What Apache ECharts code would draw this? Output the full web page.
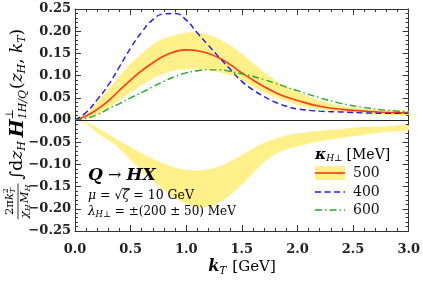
<!DOCTYPE html>
<html><head><meta charset="utf-8">
<script src="https://cdn.jsdelivr.net/npm/echarts@6/dist/echarts.min.js"></script>
<style>html,body{margin:0;padding:0;background:#fff}#c{width:423px;height:287px}</style>
</head><body><div id="c"></div>
<script>
// ---- data ----
const kT       = [0,0.1,0.2,0.3,0.4,0.5,0.6,0.7,0.8,0.9,1.0,1.1,1.2,1.3,1.4,1.5,1.6,1.7,1.8,1.9,2.0,2.2,2.4,2.6,2.8,3.0];
const red500   = [0,0.009,0.024,0.043,0.067,0.090,0.111,0.129,0.144,0.154,0.158,0.156,0.150,0.139,0.124,0.106,0.090,0.075,0.062,0.052,0.044,0.031,0.024,0.020,0.017,0.016];
const blue400  = [0,0.017,0.046,0.079,0.120,0.162,0.198,0.226,0.239,0.240,0.225,0.196,0.168,0.140,0.113,0.087,0.068,0.053,0.040,0.031,0.025,0.020,0.018,0.016,0.015,0.015];
const green600 = [0,0.004,0.012,0.025,0.037,0.050,0.062,0.075,0.087,0.098,0.106,0.111,0.113,0.113,0.109,0.104,0.098,0.091,0.083,0.074,0.066,0.050,0.037,0.028,0.022,0.018];
const bandHi   = [0,0.014,0.042,0.069,0.099,0.127,0.150,0.170,0.184,0.191,0.197,0.197,0.192,0.182,0.167,0.149,0.129,0.108,0.090,0.075,0.064,0.044,0.032,0.025,0.022,0.020];
const bandLo   = [0,0.004,0.012,0.027,0.045,0.062,0.079,0.093,0.104,0.112,0.115,0.115,0.112,0.107,0.100,0.089,0.076,0.062,0.051,0.043,0.034,0.024,0.018,0.014,0.012,0.011];
const negHi    = [0,-0.005,-0.017,-0.032,-0.047,-0.061,-0.075,-0.087,-0.098,-0.107,-0.112,-0.114,-0.111,-0.104,-0.093,-0.079,-0.064,-0.051,-0.042,-0.035,-0.030,-0.024,-0.020,-0.016,-0.014,-0.012];
const negLo    = [0,-0.008,-0.029,-0.045,-0.064,-0.090,-0.115,-0.138,-0.158,-0.176,-0.189,-0.196,-0.196,-0.186,-0.168,-0.146,-0.120,-0.095,-0.077,-0.066,-0.059,-0.048,-0.040,-0.033,-0.027,-0.023];
const legendNames = ['500','400','600'];

// ---- styles ----
const YEL = '#fff08a', RED = '#ff3a14', BLUE = '#1a1aff', GREEN = '#22aa22';
const SERIF = '"DejaVu Serif"';
const ctx = document.createElement('canvas').getContext('2d');
function tw(t, f){ ctx.font = f; return ctx.measureText(t).width; }
function txt(t, f, x, y, fill){
  return {type:'text', x:x, y:y, silent:true, z:100,
    style:{text:t, font:f, fill:fill||'#000', align:'left', verticalAlign:'middle', textAlign:'left', textVerticalAlign:'middle'}};
}
// lay out a row of pieces; piece: {t,f,dy} or {stack:[...]} or {gap:n}
function row(pieces, x0, y0, fill){
  let x = x0; const els = [], xs = [];
  pieces.forEach(p => {
    xs.push(x);
    if (p.gap !== undefined){ x += p.gap; return; }
    if (p.stack){
      let w = 0;
      p.stack.forEach(s => { els.push(txt(s.t, s.f, x, y0 + (s.dy||0), fill)); w = Math.max(w, tw(s.t, s.f)); });
      x += w; return;
    }
    els.push(txt(p.t, p.f, x, y0 + (p.dy||0), fill));
    x += tw(p.t, p.f);
  });
  xs.push(x);
  return {els:els, w:x - x0, xs:xs};
}
function rowWidth(pieces){ return row(pieces,0,0).w; }

const fN = s => s + 'px ' + SERIF;
const fI = s => 'italic ' + s + 'px ' + SERIF;
const fBI = s => 'italic bold ' + s + 'px ' + SERIF;

// ---- y title (rotated) ----
const numP = [{t:'2π', f:fN(11.5)}, {t:'k', f:fI(11.5)}, {stack:[{t:'2', f:fN(8), dy:-4}, {t:'T', f:fI(8), dy:2.5}]}];
const denP = [{t:'χ', f:fI(11.5)}, {t:'H', f:fI(8), dy:3}, {gap:1}, {t:'M', f:fI(11.5)}, {t:'H', f:fI(8), dy:3}];
const mainP = [{t:'∫', f:fN(17)}, {t:'d', f:fN(17)}, {t:'z', f:fI(17)}, {t:'H', f:fI(11), dy:4}, {gap:4},
  {t:'H', f:fBI(19)}, {stack:[{t:'⊥', f:fN(11), dy:-8}, {t:'1H/Q', f:fI(11), dy:5}]}, {gap:1},
  {t:'(', f:fN(17)}, {t:'z', f:fI(17)}, {t:'H', f:fI(11), dy:4}, {t:', ', f:fN(17)}, {t:'k', f:fI(17)}, {t:'T', f:fI(11), dy:4}, {t:')', f:fN(17)}];
const wn = rowWidth(numP), wd = rowWidth(denP), wf = Math.max(wn, wd) + 2;
const wm = rowWidth(mainP);
const totalY = wf + 4 + wm;
const yTitleEls = [].concat(
  row(numP, (wf - wn)/2, -8).els,
  [{type:'line', silent:true, z:100, shape:{x1:0, y1:0, x2:wf, y2:0}, style:{stroke:'#000', lineWidth:0.8}}],
  row(denP, (wf - wd)/2, 7).els,
  row(mainP, wf + 4, 0).els
);

// ---- x title ----
const xP = [{t:'k', f:fBI(16)}, {t:'T', f:fI(10.5), dy:4}, {gap:6}, {t:'[GeV]', f:fN(15)}];
const xw = rowWidth(xP);
const xTitle = row(xP, 242 - xw/2, 267).els;

// ---- annotations ----
const a1 = row([{t:'Q', f:fBI(17)}, {t:' → ', f:fN(16)}, {t:'HX', f:fBI(17)}], 88, 176).els;
const a2r = row([{t:'μ', f:fI(12.5)}, {t:' = √', f:fN(12.5)}, {t:'ζ', f:fI(12.5)}, {t:' = 10 GeV', f:fN(12.5)}], 88, 196);
const a2 = a2r.els.concat([{type:'line', silent:true, z:100,
  shape:{x1:a2r.xs[2] - 0.5, y1:188.5, x2:a2r.xs[3] + 0.5, y2:188.5}, style:{stroke:'#000', lineWidth:0.8}}]);
const a3 = row([{t:'λ', f:fI(12)}, {t:'H⊥', f:fI(8.5), dy:3}, {t:' = ±(200 ± 50) MeV', f:fN(12)}], 88, 212).els;

// ---- legend (drawn by hand) ----
const lg = row([{t:'κ', f:fBI(15)}, {t:'H⊥', f:fI(9), dy:4}, {gap:4}, {t:'[MeV]', f:fN(14)}], 315, 155).els;
const lx1 = 315, lx2 = 345, lyy = [173, 192, 210];
const legendEls = [].concat(lg, [
  {type:'rect', silent:true, z:100, shape:{x:lx1, y:166, width:lx2-lx1, height:14}, style:{fill:YEL}},
  {type:'line', silent:true, z:101, shape:{x1:lx1, y1:lyy[0], x2:lx2, y2:lyy[0]}, style:{stroke:RED, lineWidth:1.6}},
  {type:'line', silent:true, z:101, shape:{x1:lx1, y1:lyy[1], x2:lx2, y2:lyy[1]}, style:{stroke:BLUE, lineWidth:1.4, lineDash:[6,3.5]}},
  {type:'line', silent:true, z:101, shape:{x1:lx1, y1:lyy[2], x2:lx2, y2:lyy[2]}, style:{stroke:GREEN, lineWidth:1.4, lineDash:[7,3,1.5,3]}},
], legendNames.map((n,i) => txt(n, '14px ' + SERIF, 353, lyy[i], '#111')));

const pair = arr => kT.map((k,i) => [k, arr[i]]);
function bandRender(hi, lo){
  return function(params, api){
    const pts = [];
    kT.forEach((k,i) => pts.push(api.coord([k, hi[i]])));
    for (let i = kT.length - 1; i >= 0; i--) pts.push(api.coord([kT[i], lo[i]]));
    return {type:'polygon', shape:{points:pts, smooth:0.3}, style:{fill:YEL, stroke:null}};
  };
}

const axCol = '#333';
function xAx(pos, lab){
  return {type:'value', min:0, max:3, interval:0.5, position:pos,
    axisLine:{onZero:false, lineStyle:{color:axCol, width:1}},
    axisTick:{inside:true, length:6, lineStyle:{color:axCol, width:1}},
    minorTick:{show:true, splitNumber:5, length:3, lineStyle:{color:axCol, width:1}},
    splitLine:{show:false}, minorSplitLine:{show:false},
    axisLabel:{show:lab, formatter:v => v.toFixed(1), fontFamily:SERIF, fontWeight:'bold', fontSize:13, color:'#222', margin:12}};
}
function yAx(pos, lab){
  return {type:'value', min:-0.25, max:0.25, interval:0.05, position:pos,
    axisLine:{onZero:false, lineStyle:{color:axCol, width:1}},
    axisTick:{inside:true, length:6, lineStyle:{color:axCol, width:1}},
    minorTick:{show:true, splitNumber:5, length:3, lineStyle:{color:axCol, width:1}},
    splitLine:{show:false}, minorSplitLine:{show:false},
    axisLabel:{show:lab, formatter:v => Math.abs(v) < 1e-9 ? '0.00' : (v < 0 ? '−' : '') + Math.abs(v).toFixed(2),
      fontFamily:SERIF, fontWeight:'bold', fontSize:13, color:'#222', margin:4}};
}

const chart = echarts.init(document.getElementById('c'), null, {renderer:'canvas'});
chart.setOption({
  animation:false,
  grid:{left:75, right:13, top:9, bottom:56},
  xAxis:[xAx('bottom', true), xAx('top', false)],
  yAxis:[yAx('left', true), yAx('right', false)],
  series:[
    {type:'custom', renderItem:bandRender(bandHi, bandLo), data:[[0,0]], silent:true, z:1},
    {type:'custom', renderItem:bandRender(negHi, negLo), data:[[0,0]], silent:true, z:1},
    {type:'line', name:legendNames[0], data:pair(red500), smooth:0.5, showSymbol:false, silent:true, z:4,
      lineStyle:{color:RED, width:1.6},
      markLine:{silent:true, symbol:'none', label:{show:false}, lineStyle:{color:'#222', width:1, type:'solid'}, data:[{yAxis:0}]}},
    {type:'line', name:legendNames[1], data:pair(blue400), smooth:0.5, showSymbol:false, silent:true, z:4,
      lineStyle:{color:BLUE, width:1.4, type:[6,3.5]}},
    {type:'line', name:legendNames[2], data:pair(green600), smooth:0.5, showSymbol:false, silent:true, z:4,
      lineStyle:{color:GREEN, width:1.4, type:[7,3,1.5,3]}}
  ],
  graphic:[
    {type:'group', z:100, x:18, y:124 + totalY/2, rotation:Math.PI/2, children:yTitleEls},
    {type:'group', z:100, children:[].concat(xTitle, a1, a2, a3, legendEls)}
  ]
});
</script>
</body></html>
